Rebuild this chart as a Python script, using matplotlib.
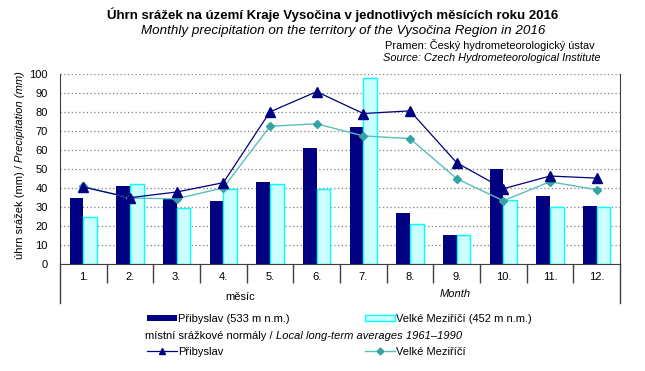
import matplotlib
matplotlib.use("Agg")
import matplotlib.pyplot as plt
import numpy as np
from matplotlib.lines import Line2D

plt.rcParams['font.family'] = ['Liberation Sans', 'DejaVu Sans']

months = ["1.", "2.", "3.", "4.", "5.", "6.", "7.", "8.", "9.", "10.", "11.", "12."]
pribyslav = [34.5, 40.8, 34.8, 32.9, 43.0, 60.9, 72.0, 26.6, 15.5, 49.8, 35.6, 30.3]
velke_mezirici = [24.8, 41.9, 29.6, 39.6, 42.3, 39.6, 97.7, 21.1, 15.3, 33.8, 29.8, 29.8]
norm_pribyslav = [40.5, 34.9, 37.9, 42.8, 80.1, 90.7, 79.2, 80.6, 53.3, 39.6, 46.3, 45.2]
norm_velke = [40.8, 34.7, 34.3, 40.1, 72.5, 73.8, 67.4, 66.0, 44.9, 33.3, 43.3, 39.1]

navy = '#000080'
teal_line = '#5CBDBD'
teal_mark = '#33A3A3'
grey = '#808080'
W, H = 645, 371

fig = plt.figure(figsize=(6.45, 3.71), dpi=100)
ax = fig.add_axes([60 / W, 1 - 264 / H, 560 / W, 190 / H])

x = np.arange(1, 13)
w = 0.29
b1 = ax.bar(x - w / 2, pribyslav, w, color=navy, zorder=2)
b2 = ax.bar(x + w / 2, velke_mezirici, w, color='#CCFFFF', edgecolor='#00FFFF', linewidth=1, zorder=2)
l1, = ax.plot(x, norm_pribyslav, color=navy, lw=0.9, marker='^', ms=6.5, zorder=4)
l2, = ax.plot(x, norm_velke, color=teal_line, lw=1.0, marker='D', ms=4.5,
              mfc=teal_mark, mec=teal_mark, zorder=3)

ax.set_xlim(0.5, 12.5)
ax.set_ylim(0, 100)
ax.set_yticks(range(0, 101, 10))
ax.yaxis.grid(True, color=grey, linestyle=(0, (1, 2)), linewidth=0.9, zorder=0)
ax.set_axisbelow(True)
ax.tick_params(axis='y', length=0, pad=9, labelsize=8)
ax.set_xticks(x)
ax.set_xticklabels(months, fontsize=8)
ax.set_xticks(np.arange(1.5, 12.5, 1), minor=True)
ax.tick_params(axis='x', which='major', length=0, pad=6)
ax.tick_params(axis='x', which='minor', length=14, width=1, color='#404040')
ax.spines['top'].set_visible(False)
for s in ('left', 'bottom', 'right'):
    ax.spines[s].set_color('#404040')

# outer lines below the axis
for xx in (0, 1):
    ax.add_line(Line2D([xx, xx], [0, -39 / 190], transform=ax.transAxes,
                       color='#404040', lw=1, clip_on=False))

fig.text(240 / W, 1 - 297 / H, "měsíc", ha='center', va='center', fontsize=8)
fig.text(455 / W, 1 - 294 / H, "Month", ha='center', va='center', fontsize=8, style='italic')

# titles
fig.text(333 / W, 1 - 15 / H, "Úhrn srážek na území Kraje Vysočina v jednotlivých měsících roku 2016",
         ha='center', va='center', fontsize=9.5, fontweight='bold')
fig.text(343 / W, 1 - 31 / H, "Monthly precipitation on the territory of the Vysočina Region in 2016",
         ha='center', va='center', fontsize=9.6, style='italic')
fig.text(385 / W, 1 - 45 / H, "Pramen: Český hydrometeorologický ústav",
         ha='left', va='center', fontsize=7.9)
fig.text(383 / W, 1 - 58 / H, "Source: Czech Hydrometeorological Institute",
         ha='left', va='center', fontsize=7.9, style='italic')

# y label, two parts
yl1 = fig.text(20 / W, 1 - 259 / H, "úhrn srážek (mm) /", rotation=90, ha='center', va='bottom', fontsize=8)
mid1 = fig.text(145 / W, 1 - 336 / H, "místní srážkové normály /", ha='left', va='center', fontsize=8)
fig.canvas.draw()
r = fig.canvas.get_renderer()
bb = yl1.get_window_extent(r)
fig.text(20 / W, (bb.y1 + 3) / H, "Precipitation (mm)", rotation=90, ha='center', va='bottom',
         fontsize=8, style='italic')
bb = mid1.get_window_extent(r)
fig.text((bb.x1 + 3) / W, 1 - 336 / H, "Local long-term averages 1961–1990", ha='left', va='center',
         fontsize=8, style='italic')

# legend
h1 = Line2D([], [], color=navy, lw=0.9, marker='^', ms=5)
h2 = Line2D([], [], color=teal_line, lw=1.0, marker='D', ms=3.5, mfc=teal_mark, mec=teal_mark)
entries = [
    (b1, "Přibyslav (533 m n.m.)", 147, 319),
    (b2, "Velké Meziříčí (452 m n.m.)", 365, 319),
    (h1, "Přibyslav", 147, 352),
    (h2, "Velké Meziříčí", 365, 352),
]
for h, lab, lx, ly in entries:
    kw = {}
    if h in (b1, b2):
        kw['handleheight'] = 0.35
    fig.legend([h], [lab], loc='center left', bbox_to_anchor=(lx / W, 1 - ly / H),
               frameon=False, fontsize=8, handlelength=2.7, handletextpad=0.1,
               borderpad=0, borderaxespad=0, **kw)

fig.savefig("out.png", dpi=100)
